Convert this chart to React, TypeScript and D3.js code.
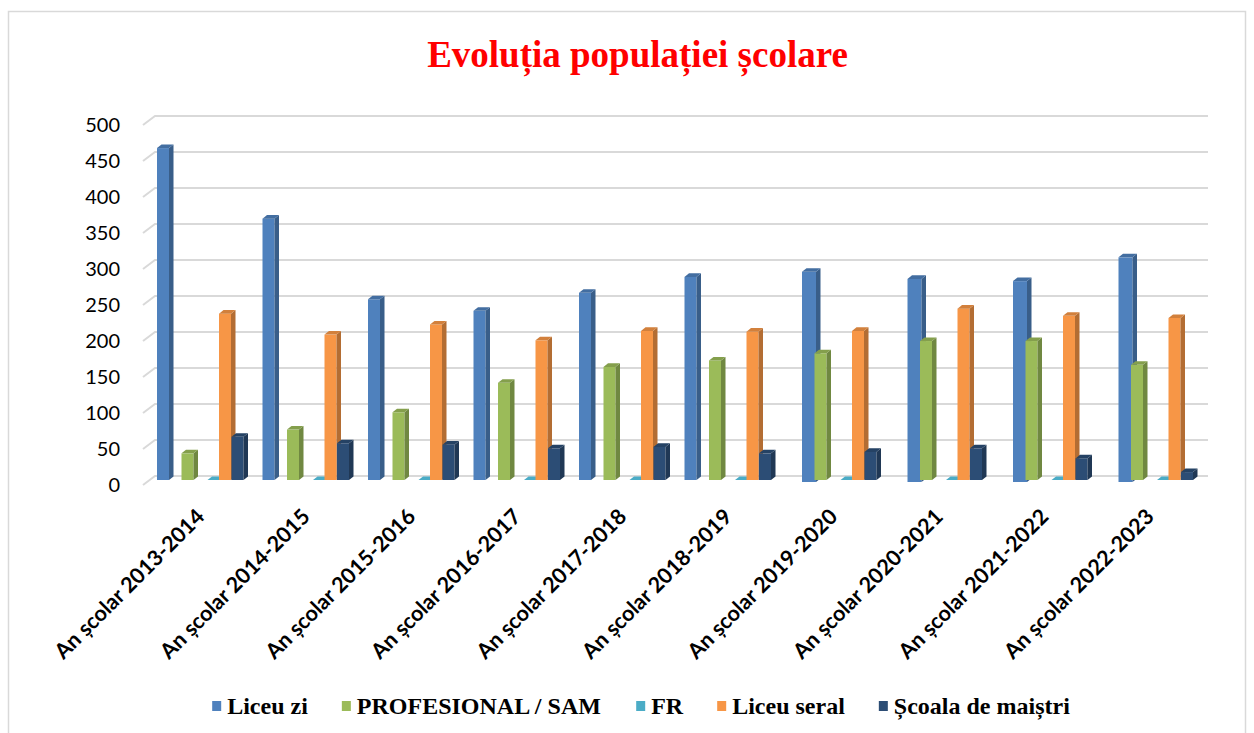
import React from "react";
import * as d3 from "d3";

const categories = [
  "An școlar 2013-2014",
  "An școlar 2014-2015",
  "An școlar 2015-2016",
  "An școlar 2016-2017",
  "An școlar 2017-2018",
  "An școlar 2018-2019",
  "An școlar 2019-2020",
  "An școlar 2020-2021",
  "An școlar 2021-2022",
  "An școlar 2022-2023",
];
const seriesNames = ["Liceu zi", "PROFESIONAL / SAM", "FR", "Liceu seral", "Școala de maiștri"];
const liceuZi = [461, 363, 251, 235, 260, 282, 292, 282, 279, 312];
const profesional = [37, 70, 94, 135, 157, 166, 176, 193, 193, 160];
const fr = [0, 0, 0, 0, 0, 0, 0, 0, 0, 0];
const liceuSeral = [231, 202, 216, 194, 207, 206, 207, 238, 228, 225];
const scoalaMaistri = [60, 51, 49, 44, 46, 37, 39, 44, 30, 11];
const yTicks = [0, 50, 100, 150, 200, 250, 300, 350, 400, 450, 500];

const seriesValues = [liceuZi, profesional, fr, liceuSeral, scoalaMaistri];
const colors = ["#4f81bd", "#9bbb59", "#4bacc6", "#f79646", "#2c4d75"];

// layout
const W = 1254;
const H = 733;
const plotLeft = 143;
const plotRight = 1198;
const backRight = 1208;
const slotOffsets = [14, 38.5, 64.5, 76, 88.5];
const barW = 12;
const DX = 4.5;
const DY = 3.6;
const wallDX = 12;
const wallDY = 9;

function measure(text: string, font: string) {
  const c = document.createElement("canvas").getContext("2d");
  if (!c) return text.length * 10;
  c.font = font;
  return c.measureText(text).width;
}

export default function App() {
  const x = d3.scaleBand<string>().domain(categories).range([plotLeft, plotRight]);
  const y = d3.scaleLinear().domain([0, 500]).range([476, 116]);

  const bars: React.ReactNode[] = [];
  categories.forEach((cat, i) => {
    seriesValues.forEach((vals, s) => {
      const v = vals[i];
      const color = colors[s];
      const shifted = s === 0 && i >= 6;
      const x0 = (x(cat) as number) + (shifted ? 26 : slotOffsets[s]);
      const w = shifted ? 14 : barW;
      const base = y(0) + 4 + (shifted ? 2 : 0);
      const top = y(v) + 4 + (shifted ? 2 : 0);
      const side = d3.color(color)!.darker(0.9).formatHex();
      const topC = d3.color(color)!.darker(0.45).formatHex();
      const key = `${i}-${s}`;
      if (v === 0) {
        bars.push(
          <polygon
            key={key}
            points={`${x0},${base} ${x0 + w},${base} ${x0 + w + DX},${base - DY} ${x0 + DX},${base - DY}`}
            fill={color}
          />
        );
        return;
      }
      bars.push(
        <g key={key}>
          <rect x={x0} y={top} width={w} height={base - top} fill={color} />
          <polygon
            points={`${x0 + w},${base} ${x0 + w + DX},${base - DY} ${x0 + w + DX},${top - DY} ${x0 + w},${top}`}
            fill={side}
          />
          <polygon
            points={`${x0},${top} ${x0 + w},${top} ${x0 + w + DX},${top - DY} ${x0 + DX},${top - DY}`}
            fill={topC}
          />
        </g>
      );
    });
  });

  // legend layout
  const legendSize = 24;
  const legendFont = `bold ${legendSize}px 'Liberation Serif'`;
  const sq = 9;
  const sqGap = 6;
  const itemGap = 34;
  const widths = seriesNames.map((n) => measure(n, legendFont));
  const total = widths.reduce((a, b) => a + b + sq + sqGap, 0) + itemGap * (seriesNames.length - 1);
  let lx = 641 - total / 2;
  const legendItems = seriesNames.map((n, k) => {
    const gx = lx;
    lx += sq + sqGap + widths[k] + itemGap;
    return (
      <g key={n} transform={`translate(${gx},0)`}>
        <rect x={0} y={701} width={sq} height={10} fill={colors[k]} />
        <text
          x={sq + sqGap}
          y={714}
          fontFamily="'Liberation Serif', 'Times New Roman', serif"
          fontWeight="bold"
          fontSize={legendSize}
          fill="#000"
        >
          {n}
        </text>
      </g>
    );
  });

  return (
    <svg
      width={W}
      height={H}
      style={{ position: "absolute", left: 0, top: 0, background: "#fff" }}
    >
      <rect x={8.5} y={11.5} width={1237} height={730} fill="#fff" stroke="#d9d9d9" strokeWidth={1.5} />
      <text
        x={637.5}
        y={67}
        textAnchor="middle"
        fontFamily="'Liberation Serif', 'Times New Roman', serif"
        fontWeight="bold"
        fontSize={37}
        fill="#ff0000"
      >
        Evoluția populației școlare
      </text>
      {yTicks.map((t) => (
        <polyline
          key={`g${t}`}
          points={`${plotLeft},${y(t) + wallDY} ${plotLeft + wallDX},${y(t)} ${backRight},${y(t)}`}
          fill="none"
          stroke="#d9d9d9"
          strokeWidth={2}
        />
      ))}
      {yTicks.map((t) => (
        <text
          key={`t${t}`}
          x={120}
          y={y(t) + 8}
          textAnchor="end"
          dominantBaseline="central"
          fontFamily="Lato, sans-serif"
          fontSize={20}
          fill="#000"
        >
          {t}
        </text>
      ))}
      {bars}
      {categories.map((c) => {
        const cx = (x(c) as number) + x.bandwidth() / 2;
        return (
          <text
            key={c}
            transform={`translate(${cx + 10},518) rotate(-45)`}
            textAnchor="end"
            fontFamily="Lato, sans-serif"
            fontWeight="bold"
            fontSize={21.5}
            fill="#000"
          >
            {c}
          </text>
        );
      })}
      {legendItems}
    </svg>
  );
}
